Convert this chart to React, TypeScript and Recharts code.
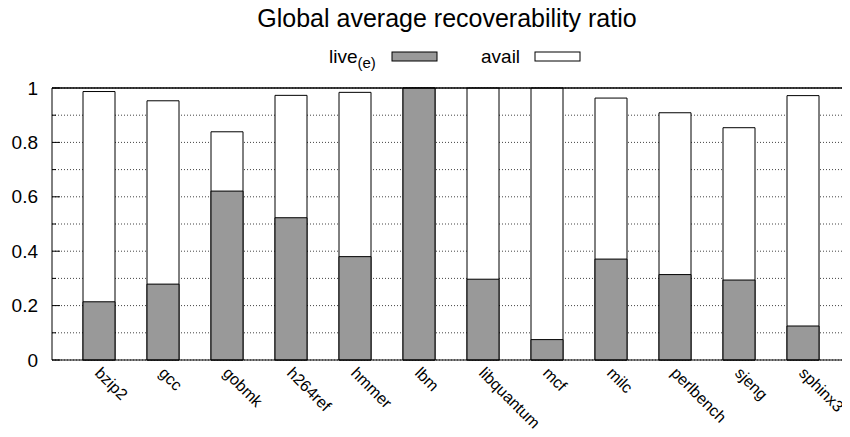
import { BarChart, Bar, XAxis, YAxis, CartesianGrid, ReferenceLine } from "recharts";

const categories = [
  "bzip2",
  "gcc",
  "gobmk",
  "h264ref",
  "hmmer",
  "lbm",
  "libquantum",
  "mcf",
  "milc",
  "perlbench",
  "sjeng",
  "sphinx3",
];
const live = [0.214, 0.279, 0.621, 0.523, 0.38, 1.0, 0.297, 0.075, 0.371, 0.314, 0.294, 0.125];
const avail = [0.987, 0.953, 0.839, 0.973, 0.984, 1.0, 1.0, 1.0, 0.963, 0.909, 0.854, 0.972];
const yTicks = [0, 0.1, 0.2, 0.3, 0.4, 0.5, 0.6, 0.7, 0.8, 0.9, 1];

const data = categories.map((name, i) => ({ name, live: live[i], avail: avail[i] }));

const FONT = "'Liberation Sans', Arial, Helvetica, sans-serif";

const isMajor = (v: number) => Math.round(v * 10) % 2 === 0;

const LeftTick = (props: any) => {
  const { x, y, payload } = props;
  const v = payload.value as number;
  const major = isMajor(v);
  return (
    <g>
      <line x1={x} x2={x + (major ? 8 : 4)} y1={y} y2={y} stroke="#000" />
      {major && (
        <text x={x - 14} y={y} dy={6.5} textAnchor="end" fontSize={19} fontFamily={FONT} fill="#000">
          {String(v)}
        </text>
      )}
    </g>
  );
};

const RightTick = (props: any) => {
  const { x, y, payload } = props;
  const major = isMajor(payload.value);
  return <line x1={x} x2={x - (major ? 8 : 4)} y1={y} y2={y} stroke="#000" />;
};

const XTick = (props: any) => {
  const { x, y, payload } = props;
  const tx = x - 5;
  const ty = y + 14;
  return (
    <text
      x={tx}
      y={ty}
      transform={`rotate(45, ${tx}, ${ty})`}
      textAnchor="start"
      fontSize={16}
      fontFamily={FONT}
      fill="#000"
    >
      {payload.value}
    </text>
  );
};

export default function App() {
  return (
    <div style={{ position: "relative", width: 842, height: 429 }}>
      <BarChart
        width={842}
        height={429}
        data={data}
        margin={{ top: 80, right: 7, left: 0, bottom: 0 }}
        barGap={-32}
      >
        <CartesianGrid vertical={false} stroke="#444" strokeDasharray="1 2" />
        <XAxis
          dataKey="name"
          height={77}
          padding={{ left: 15, right: 8 }}
          tickLine={false}
          tickSize={0}
          tickMargin={0}
          interval={0}
          tick={<XTick />}
          axisLine={{ stroke: "#000" }}
        />
        <YAxis
          width={44}
          domain={[0, 1]}
          ticks={yTicks}
          interval={0}
          tickLine={false}
          tickSize={0}
          tickMargin={0}
          tick={<LeftTick />}
          axisLine={{ stroke: "#000" }}
        />
        <YAxis
          yAxisId="right"
          orientation="right"
          width={0}
          domain={[0, 1]}
          ticks={yTicks}
          interval={0}
          tickLine={false}
          tickSize={0}
          tickMargin={0}
          tick={<RightTick />}
          axisLine={{ stroke: "#000" }}
        />
        <Bar dataKey="avail" fill="#fff" stroke="#000" barSize={32} isAnimationActive={false} />
        <Bar dataKey="live" fill="#999" stroke="#000" barSize={32} isAnimationActive={false} />
        <ReferenceLine y={1} stroke="#000" strokeWidth={1.5} />
      </BarChart>
      <svg
        width={850}
        height={90}
        style={{ position: "absolute", left: -8, top: -8, pointerEvents: "none" }}
      >
        <text x={447} y={27} textAnchor="middle" fontSize={25} fontFamily={FONT} fill="#000">
          Global average recoverability ratio
        </text>
        <text x={329} y={63} fontSize={19} fontFamily={FONT} fill="#000">
          live
          <tspan fontSize={15} dy={5}>
            (e)
          </tspan>
        </text>
        <rect x={392} y={52} width={45} height={9} fill="#999" stroke="#000" />
        <text x={481} y={63} fontSize={19} fontFamily={FONT} fill="#000">
          avail
        </text>
        <rect x={535} y={52} width={45} height={9} fill="#fff" stroke="#000" />
      </svg>
    </div>
  );
}
